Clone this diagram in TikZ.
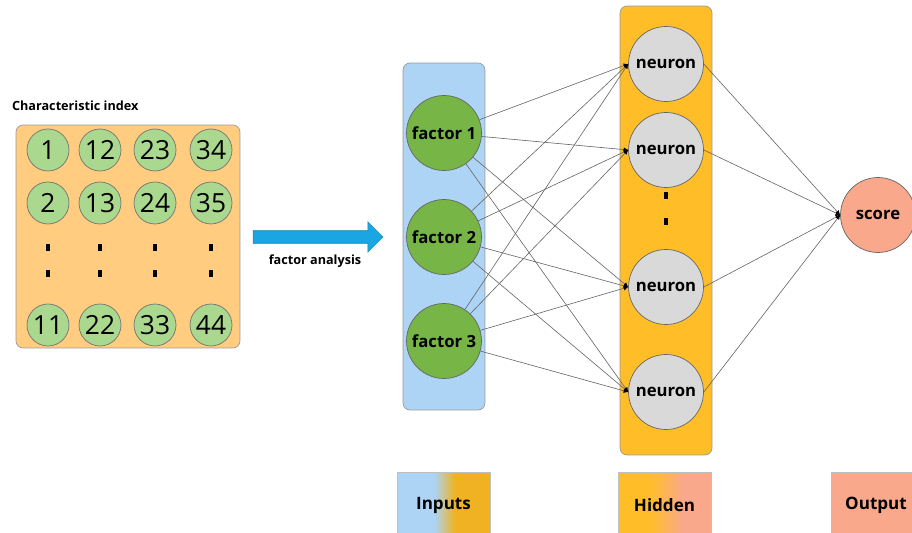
\documentclass[tikz,border=0pt]{standalone}
\usepackage{fontspec}
\setmainfont{Open Sans}
\usetikzlibrary{
    arrows.meta,
    positioning,
    shapes.arrows
}
\definecolor{idxorange}{RGB}{255,204,128}
\definecolor{idxgreen}{RGB}{169,216,142}
\definecolor{inblue}{RGB}{173,211,245}
\definecolor{facgreen}{RGB}{118,181,70}
\definecolor{hidamber}{RGB}{255,190,40}
\definecolor{neugray}{RGB}{217,217,217}
\definecolor{outsalmon}{RGB}{250,168,140}
\definecolor{ingold}{RGB}{240,178,35}
\definecolor{fablue}{RGB}{26,166,226}
\pgfdeclarehorizontalshading{inshade}{100bp}{color(0bp)=(inblue); color(45bp)=(inblue); color(56bp)=(ingold); color(100bp)=(ingold)}
\pgfdeclarehorizontalshading{hidshade}{100bp}{color(0bp)=(hidamber); color(42bp)=(hidamber); color(60bp)=(outsalmon); color(100bp)=(outsalmon)}
\tikzset{
    idxcirc/.style={
        draw=black!55,
        circle,
        inner sep=0pt,
        minimum size=0.84cm,
        line width=0.4pt,
        fill=idxgreen,
        font=\fontsize{15}{15}\selectfont
    },
    bignode/.style={
        draw=black!60,
        circle,
        inner sep=0pt,
        minimum size=1.5cm,
        line width=0.4pt,
        font=\fontsize{9.5}{11}\selectfont\bfseries
    },
    layerbox/.style={
        draw=black!40,
        rectangle,
        rounded corners=4pt,
        line width=0.4pt
    },
    legbox/.style={
        draw=black!25,
        rectangle,
        minimum width=1.86cm,
        minimum height=1.32cm,
        line width=0.4pt,
        font=\fontsize{9.7}{11}\selectfont\bfseries
    },
    lab/.style={
        font=\fontsize{7.2}{8}\selectfont\bfseries,
        inner sep=1pt
    },
    link/.style={
        draw=black!60,
        line width=0.35pt,
        -{Latex[length=0.9mm,width=0.9mm,color=black]}
    }
}

\begin{document}
\begin{tikzpicture}[
    x=0.02cm,
    y=-0.02cm,
    dotmark/.style={fill=black}
]
\clip (0,0) rectangle (912,533);

\node[layerbox, fill=idxorange, minimum width=4.48cm, minimum height=4.46cm] (idx) at (128,236.5) {};
\node[lab, anchor=south west] (idxlab) at (10,113) {Characteristic index};

\node[idxcirc] (c1) at (48,150) {1};
\node[idxcirc] (c12) at (100,150) {12};
\node[idxcirc] (c23) at (155,150) {23};
\node[idxcirc] (c34) at (211,150) {34};
\node[idxcirc] (c2) at (48,203) {2};
\node[idxcirc] (c13) at (100,203) {13};
\node[idxcirc] (c24) at (155,203) {24};
\node[idxcirc] (c35) at (211,203) {35};
\node[idxcirc] (c11) at (48,325) {11};
\node[idxcirc] (c22) at (100,325) {22};
\node[idxcirc] (c33) at (155,325) {33};
\node[idxcirc] (c44) at (211,325) {44};

\fill[dotmark] (46,244) rectangle (49.5,251);
\fill[dotmark] (46,270) rectangle (49.5,277);
\fill[dotmark] (98,244) rectangle (101.5,251);
\fill[dotmark] (98,270) rectangle (101.5,277);
\fill[dotmark] (153,244) rectangle (156.5,251);
\fill[dotmark] (153,270) rectangle (156.5,277);
\fill[dotmark] (209,244) rectangle (212.5,251);
\fill[dotmark] (209,270) rectangle (212.5,277);

\node[single arrow, draw=fablue!80!black, fill=fablue, line width=0.3pt, inner sep=0pt, text height=0pt, text depth=0pt, inner ysep=0.12cm, single arrow head extend=0.18cm, minimum height=2.6cm] (fa) at (315,237) {};
\node[lab, below=0.18cm of fa] (falab) {factor analysis};

\node[layerbox, fill=inblue, minimum width=1.64cm, minimum height=6.94cm] (inbox) at (444,236.5) {};
\node[layerbox, fill=hidamber, minimum width=1.84cm, minimum height=8.98cm] (hidbox) at (666,230.5) {};

\node[bignode, fill=facgreen] (f1) at (444,133) {factor 1};
\node[bignode, fill=facgreen] (f2) at (444,237) {factor 2};
\node[bignode, fill=facgreen] (f3) at (444,341) {factor 3};

\node[bignode, fill=neugray] (n1) at (666,64) {neuron};
\node[bignode, fill=neugray] (n2) at (666,150) {neuron};
\node[bignode, fill=neugray] (n3) at (666,287) {neuron};
\node[bignode, fill=neugray] (n4) at (666,392) {neuron};

\fill[dotmark] (664,192.5) rectangle (668,199.5);
\fill[dotmark] (664,218.5) rectangle (668,225.5);

\node[bignode, fill=outsalmon] (out) at (878,215) {score};

\draw[link] (f1) -- (n1.west);
\draw[link] (f1) -- (n2.west);
\draw[link] (f1) -- (n3.west);
\draw[link] (f1) -- (n4.west);
\draw[link] (f2) -- (n1.west);
\draw[link] (f2) -- (n2.west);
\draw[link] (f2) -- (n3.west);
\draw[link] (f2) -- (n4.west);
\draw[link] (f3) -- (n1.west);
\draw[link] (f3) -- (n2.west);
\draw[link] (f3) -- (n3.west);
\draw[link] (f3) -- (n4.west);

\draw[link] (n1.east) -- (out.west);
\draw[link] (n2.east) -- (out.west);
\draw[link] (n3.east) -- (out.west);
\draw[link] (n4.east) -- (out.west);

\node[legbox, shading=inshade] (leg1) at (443.5,505) {Inputs};
\node[legbox, shading=hidshade] (leg2) at (664.5,505) {Hidden};
\node[legbox, fill=outsalmon, minimum width=1.8cm] (leg3) at (876,505) {Output};

\end{tikzpicture}
\end{document}
